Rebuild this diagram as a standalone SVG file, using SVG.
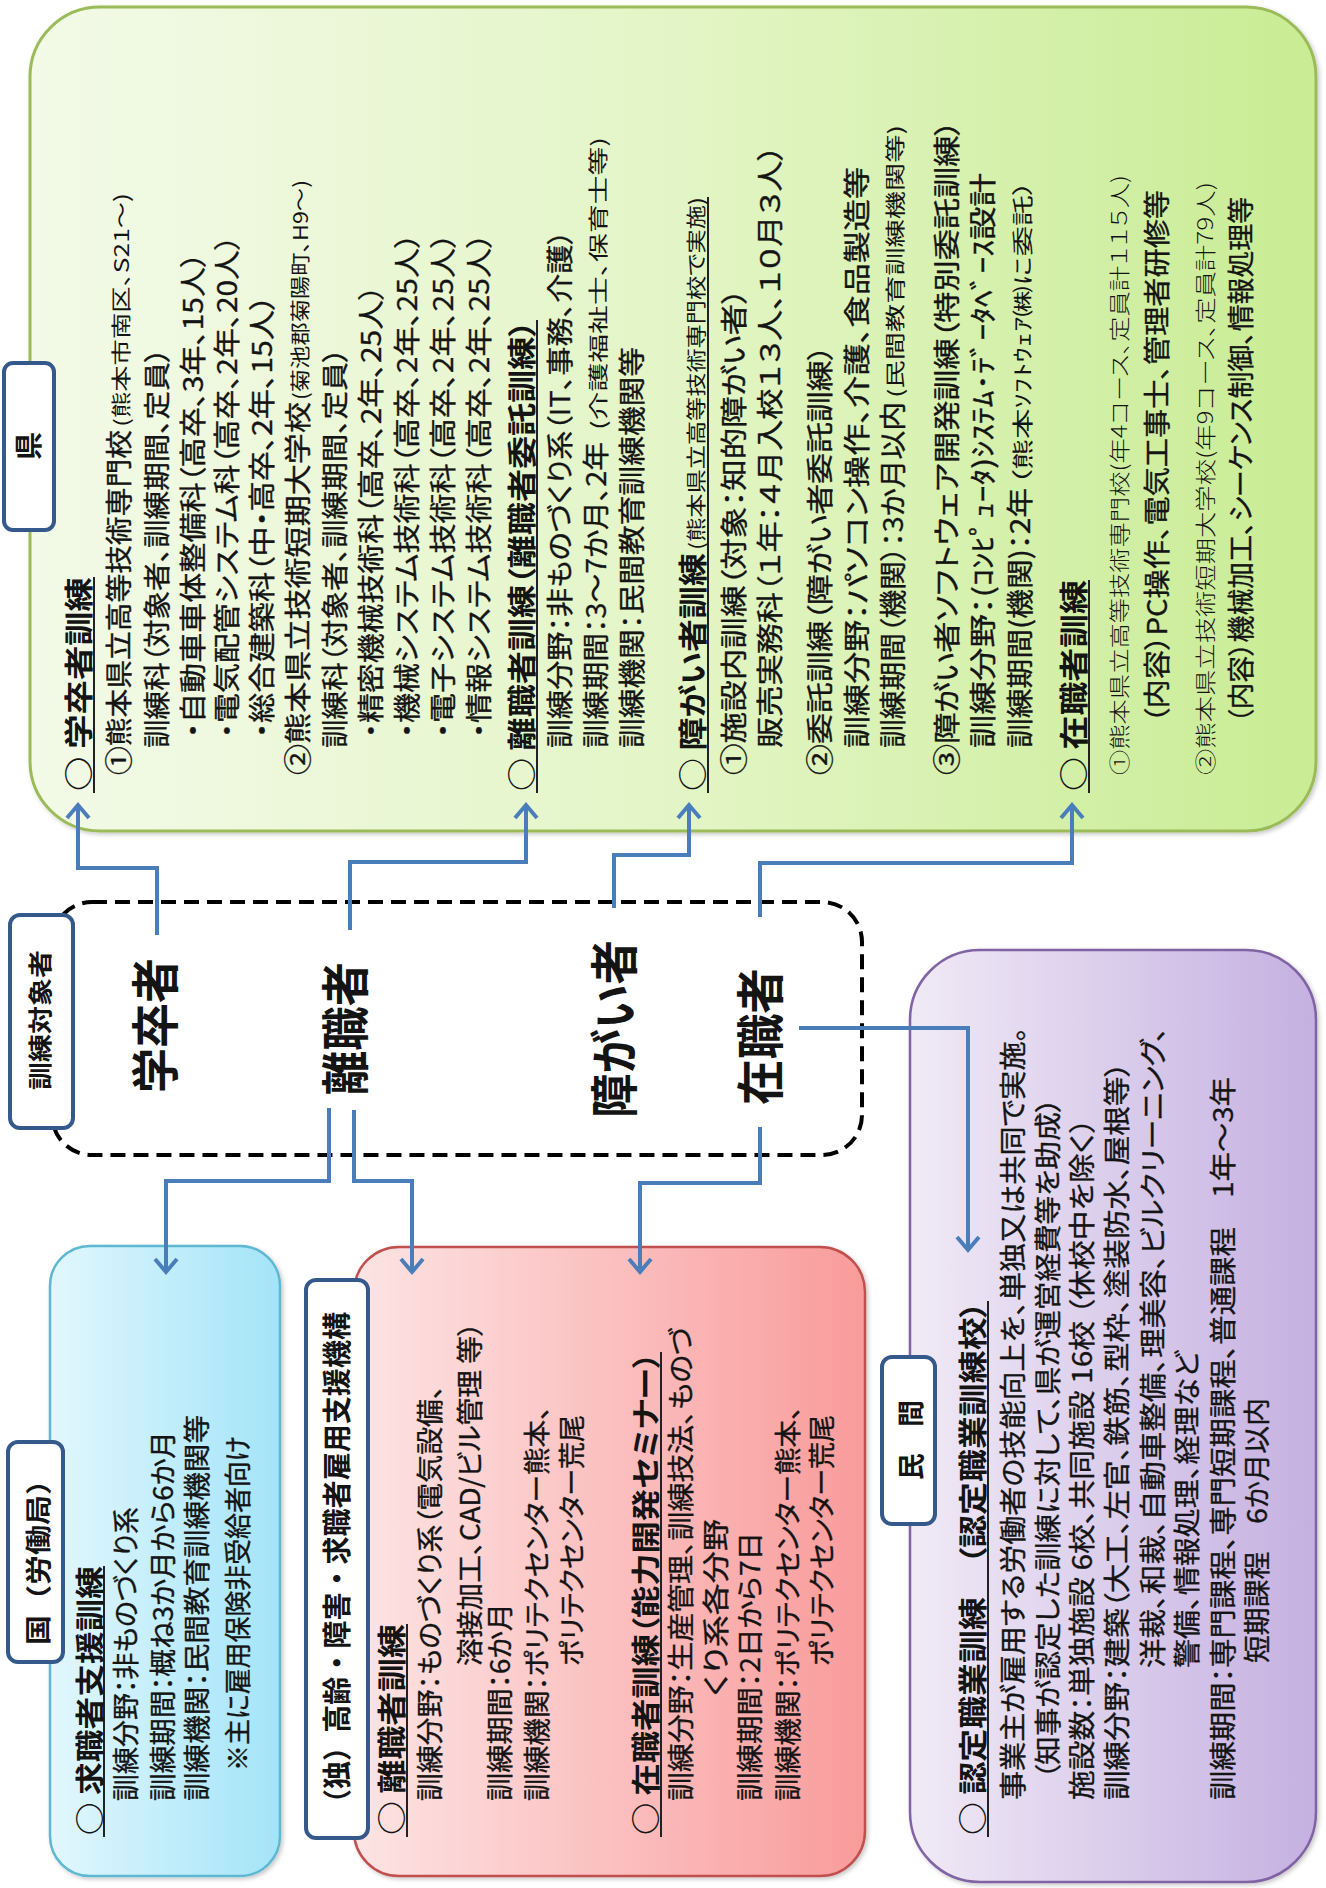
<svg xmlns="http://www.w3.org/2000/svg" width="1326" height="1888" viewBox="0 0 1326 1888">
<defs>
<style>
.tx{font-family:"Noto Sans CJK JP","Noto Sans CJK SC",sans-serif;fill:#141414;font-feature-settings:"palt" 1;}
.b{font-size:27px;stroke:#141414;stroke-width:0.35px;}
.h{font-size:29px;font-weight:700;}
.s{font-size:20px;}
.s2{font-size:21px;}
.sl{font-size:21px;font-weight:300;}
.big{font-size:48px;font-weight:700;font-feature-settings:normal;}
.lbl{font-weight:700;font-feature-settings:normal;}
.ul{stroke:#222;stroke-width:2;}
.lbox{fill:#fff;stroke:#34598A;stroke-width:4;}
.con{fill:none;stroke:#4A7EBB;stroke-width:4;}
</style>
<linearGradient id="gGreen" x1="0" y1="0" x2="1" y2="0">
<stop offset="0" stop-color="#F3FAE8"/><stop offset="0.5" stop-color="#E3F5C6"/><stop offset="1" stop-color="#C9EC94"/>
</linearGradient>
<linearGradient id="gBlue" x1="0" y1="0" x2="1" y2="0">
<stop offset="0" stop-color="#E2F7FD"/><stop offset="1" stop-color="#A3E4F8"/>
</linearGradient>
<linearGradient id="gRed" x1="0" y1="0" x2="1" y2="0">
<stop offset="0" stop-color="#FDE4E4"/><stop offset="1" stop-color="#F99B9B"/>
</linearGradient>
<linearGradient id="gPurple" x1="0" y1="0" x2="1" y2="0">
<stop offset="0" stop-color="#F0EAF6"/><stop offset="1" stop-color="#C5B0E1"/>
</linearGradient>
<filter id="sh" x="-5%" y="-5%" width="110%" height="110%">
<feDropShadow dx="2" dy="2" stdDeviation="2" flood-color="#000" flood-opacity="0.22"/>
</filter>
<marker id="arr" markerUnits="userSpaceOnUse" viewBox="-16 -14 20 28" refX="0" refY="0" markerWidth="20" markerHeight="28" orient="auto" overflow="visible">
<path d="M-13,-11 L0,0 L-13,11" fill="none" stroke="#4A7EBB" stroke-width="4"/>
</marker>
</defs>

<g id="node-ken">
<rect x="30" y="7" width="1286" height="824" rx="70" fill="url(#gGreen)" stroke="#9BBB59" stroke-width="3" filter="url(#sh)"/>
<g class="ul">
<line x1="94" y1="793" x2="94" y2="577"/>
<line x1="537" y1="793" x2="537" y2="320"/>
<line x1="708" y1="793" x2="708" y2="197"/>
<line x1="1089" y1="793" x2="1089" y2="580"/>
</g>
<g class="tx" transform="matrix(0,-1,1,0,0,1888)">
<text class="h" x="1097" y="90" textLength="214" lengthAdjust="spacingAndGlyphs">○ 学卒者訓練</text>
<text class="b" x="1113" y="128.5" textLength="345" lengthAdjust="spacingAndGlyphs">①熊本県立高等技術専門校</text>
<text class="s" x="1461" y="128.5" textLength="234" lengthAdjust="spacingAndGlyphs">(熊本市南区、S21～)</text>
<text class="b" x="1140" y="166.5" textLength="400" lengthAdjust="spacingAndGlyphs">訓練科（対象者、訓練期間、定員）</text>
<text class="b" x="1150" y="202.5" textLength="486" lengthAdjust="spacingAndGlyphs">・自動車車体整備科（高卒、3年、15人）</text>
<text class="b" x="1150" y="236.5" textLength="503" lengthAdjust="spacingAndGlyphs">・電気配管システム科（高卒、2年、20人）</text>
<text class="b" x="1150" y="271.5" textLength="443" lengthAdjust="spacingAndGlyphs">・総合建築科（中・高卒、2年、15人）</text>
<text class="b" x="1113" y="307.5" textLength="373" lengthAdjust="spacingAndGlyphs">②熊本県立技術短期大学校</text>
<text class="s" x="1488" y="307.5" textLength="220" lengthAdjust="spacingAndGlyphs">(菊池郡菊陽町、H9～)</text>
<text class="b" x="1140" y="344.5" textLength="400" lengthAdjust="spacingAndGlyphs">訓練科（対象者、訓練期間、定員）</text>
<text class="b" x="1150" y="380.5" textLength="453" lengthAdjust="spacingAndGlyphs">・精密機械技術科（高卒、2年、25人）</text>
<text class="b" x="1150" y="416.5" textLength="505" lengthAdjust="spacingAndGlyphs">・機械システム技術科（高卒、2年、25人）</text>
<text class="b" x="1150" y="452.5" textLength="505" lengthAdjust="spacingAndGlyphs">・電子システム技術科（高卒、2年、25人）</text>
<text class="b" x="1150" y="488.5" textLength="505" lengthAdjust="spacingAndGlyphs">・情報システム技術科（高卒、2年、25人）</text>
<text class="h" x="1097" y="533" textLength="471" lengthAdjust="spacingAndGlyphs">○ 離職者訓練（離職者委託訓練）</text>
<text class="b" x="1140" y="569.5" textLength="518" lengthAdjust="spacingAndGlyphs">訓練分野：非ものづくり系（IT、事務、介護）</text>
<text class="b" x="1140" y="605.5" textLength="306" lengthAdjust="spacingAndGlyphs">訓練期間：3～7か月、2年</text>
<text class="s" x="1458" y="605.5" textLength="293" lengthAdjust="spacingAndGlyphs">(介護福祉士、保育士等)</text>
<text class="b" x="1140" y="641.5" textLength="401" lengthAdjust="spacingAndGlyphs">訓練機関：民間教育訓練機関等</text>
<text class="h" x="1097" y="704" textLength="238" lengthAdjust="spacingAndGlyphs">○ 障がい者訓練</text>
<text class="s" x="1338" y="704" textLength="353" lengthAdjust="spacingAndGlyphs">(熊本県立高等技術専門校で実施)</text>
<text class="b" x="1113" y="743.5" textLength="487" lengthAdjust="spacingAndGlyphs">①施設内訓練（対象：知的障がい者）</text>
<text class="b" x="1140" y="779.5" textLength="603" lengthAdjust="spacingAndGlyphs">販売実務科（１年：４月入校１３人、１０月３人）</text>
<text class="b" x="1113" y="829.5" textLength="430" lengthAdjust="spacingAndGlyphs">②委託訓練（障がい者委託訓練）</text>
<text class="b" x="1140" y="866.5" textLength="581" lengthAdjust="spacingAndGlyphs">訓練分野：パソコン操作、介護、食品製造等</text>
<text class="b" x="1140" y="902.5" textLength="346" lengthAdjust="spacingAndGlyphs">訓練期間（機関）：3か月以内</text>
<text class="s" x="1490" y="902.5" textLength="273" lengthAdjust="spacingAndGlyphs">(民間教育訓練機関等)</text>
<text class="b" x="1113" y="956.5" textLength="655" lengthAdjust="spacingAndGlyphs">③障がい者ソフトウェア開発訓練（特別委託訓練）</text>
<text class="b" x="1140" y="992.5" textLength="575" lengthAdjust="spacingAndGlyphs">訓練分野：(ｺﾝﾋﾟｭｰﾀ)ｼｽﾃﾑ･ﾃﾞｰﾀﾍﾞｰｽ設計</text>
<text class="b" x="1140" y="1029.5" textLength="260" lengthAdjust="spacingAndGlyphs">訓練期間(機関)：2年</text>
<text class="s2" x="1403" y="1029.5" textLength="305" lengthAdjust="spacingAndGlyphs">（熊本ｿﾌﾄｳｪｱ㈱に委託）</text>
<text class="h" x="1097" y="1085" textLength="211" lengthAdjust="spacingAndGlyphs">○ 在職者訓練</text>
<text class="sl" x="1113" y="1127" textLength="600" lengthAdjust="spacingAndGlyphs">①熊本県立高等技術専門校(年4コース、定員計１１５人)</text>
<text class="b" x="1165" y="1166.5" textLength="533" lengthAdjust="spacingAndGlyphs">（内容）PC操作、電気工事士、管理者研修等</text>
<text class="sl" x="1113" y="1213" textLength="593" lengthAdjust="spacingAndGlyphs">②熊本県立技術短期大学校(年9コース、定員計79人)</text>
<text class="b" x="1165" y="1250.5" textLength="526" lengthAdjust="spacingAndGlyphs">（内容）機械加工、シーケンス制御、情報処理等</text>
</g>
</g>

<g id="node-kuni">
<rect x="50" y="1246" width="230" height="630" rx="40" fill="url(#gBlue)" stroke="#5EB8D2" stroke-width="2.5" filter="url(#sh)"/>
<line class="ul" x1="104" y1="1837" x2="104" y2="1566"/>
<g class="tx" transform="matrix(0,-1,1,0,0,1888)">
<text class="h" x="53" y="101" textLength="269" lengthAdjust="spacingAndGlyphs">○ 求職者支援訓練</text>
<text class="b" x="87" y="135.5" textLength="294" lengthAdjust="spacingAndGlyphs">訓練分野：非ものづくり系</text>
<text class="b" x="87" y="172.5" textLength="370" lengthAdjust="spacingAndGlyphs">訓練期間：概ね3か月から6か月</text>
<text class="b" x="87" y="206.5" textLength="386" lengthAdjust="spacingAndGlyphs">訓練機関：民間教育訓練機関等</text>
<text class="b" x="117" y="247.5" textLength="335" lengthAdjust="spacingAndGlyphs">※主に雇用保険非受給者向け</text>
</g>
</g>

<g id="node-dokuritsu">
<rect x="354" y="1247" width="511" height="629" rx="45" fill="url(#gRed)" stroke="#C0504D" stroke-width="2.5" filter="url(#sh)"/>
<g class="ul">
<line x1="407" y1="1837" x2="407" y2="1624"/>
<line x1="661" y1="1837" x2="661" y2="1352"/>
</g>
<g class="tx" transform="matrix(0,-1,1,0,0,1888)">
<text class="h" x="53" y="403" textLength="211" lengthAdjust="spacingAndGlyphs">○ 離職者訓練</text>
<text class="b" x="87" y="439.5" textLength="416" lengthAdjust="spacingAndGlyphs">訓練分野：ものづくり系（電気設備、</text>
<text class="b" x="222" y="479.5" textLength="344" lengthAdjust="spacingAndGlyphs">溶接加工、CAD/ビル管理 等）</text>
<text class="b" x="87" y="509.5" textLength="198" lengthAdjust="spacingAndGlyphs">訓練期間：6か月</text>
<text class="b" x="87" y="546.5" textLength="395" lengthAdjust="spacingAndGlyphs">訓練機関：ポリテクセンター熊本、</text>
<text class="b" x="222" y="581.5" textLength="251" lengthAdjust="spacingAndGlyphs">ポリテクセンター荒尾</text>
<text class="h" x="53" y="657" textLength="483" lengthAdjust="spacingAndGlyphs">○ 在職者訓練（能力開発セミナー）</text>
<text class="b" x="87" y="690.5" textLength="474" lengthAdjust="spacingAndGlyphs">訓練分野：生産管理、訓練技法、ものづ</text>
<text class="b" x="192" y="725.5" textLength="177" lengthAdjust="spacingAndGlyphs">くり系各分野</text>
<text class="b" x="87" y="759.5" textLength="269" lengthAdjust="spacingAndGlyphs">訓練期間：2日から7日</text>
<text class="b" x="87" y="797.5" textLength="395" lengthAdjust="spacingAndGlyphs">訓練機関：ポリテクセンター熊本、</text>
<text class="b" x="222" y="831.5" textLength="251" lengthAdjust="spacingAndGlyphs">ポリテクセンター荒尾</text>
</g>
</g>

<g id="node-minkan">
<rect x="910" y="950" width="406" height="932" rx="70" fill="url(#gPurple)" stroke="#8064A2" stroke-width="2.5" filter="url(#sh)"/>
<line class="ul" x1="988" y1="1837" x2="988" y2="1301"/>
<g class="tx" transform="matrix(0,-1,1,0,0,1888)">
<text class="h" x="53" y="984" textLength="534" lengthAdjust="spacingAndGlyphs">○ 認定職業訓練　（認定職業訓練校）</text>
<text class="b" x="88" y="1022.5" textLength="773" lengthAdjust="spacingAndGlyphs">事業主が雇用する労働者の技能向上を、単独又は共同で実施。</text>
<text class="b" x="109" y="1057.5" textLength="681" lengthAdjust="spacingAndGlyphs">（知事が認定した訓練に対して、県が運営経費等を助成）</text>
<text class="b" x="88" y="1091.5" textLength="682" lengthAdjust="spacingAndGlyphs">施設数：単独施設 6校、共同施設 16校 （休校中を除く）</text>
<text class="b" x="88" y="1126.5" textLength="738" lengthAdjust="spacingAndGlyphs">訓練分野：建築（大工、左官、鉄筋、型枠、塗装防水、屋根等）</text>
<text class="b" x="220" y="1162.5" textLength="641" lengthAdjust="spacingAndGlyphs">洋裁、和裁、自動車整備、理美容、ビルクリーニング、</text>
<text class="b" x="220" y="1196.5" textLength="317" lengthAdjust="spacingAndGlyphs">警備、情報処理、経理など</text>
<text class="b" x="88" y="1232.5" textLength="723" lengthAdjust="spacingAndGlyphs">訓練期間：専門課程、専門短期課程、普通課程　1年～3年</text>
<text class="b" x="225" y="1266.5" textLength="265" lengthAdjust="spacingAndGlyphs">短期課程　6か月以内</text>
</g>
</g>

<g id="node-targets">
<rect x="52" y="902" width="810" height="253" rx="40" fill="none" stroke="#000" stroke-width="4" stroke-dasharray="15 8"/>
<g class="tx" transform="matrix(0,-1,1,0,0,1888)">
<text id="t-gakusotsu" class="big" x="795" y="173" textLength="135" lengthAdjust="spacingAndGlyphs">学卒者</text>
<text id="t-rishoku" class="big" x="793" y="363" textLength="133" lengthAdjust="spacingAndGlyphs">離職者</text>
<text id="t-shogai" class="big" x="770" y="632" textLength="178" lengthAdjust="spacingAndGlyphs">障がい者</text>
<text id="t-zaishoku" class="big" x="783" y="778" textLength="137" lengthAdjust="spacingAndGlyphs">在職者</text>
</g>
</g>

<g id="connectors">
<path class="con" d="M157,935 V868 H78 V805" marker-end="url(#arr)"/>
<path class="con" d="M350,930 V862 H526 V805" marker-end="url(#arr)"/>
<path class="con" d="M614,908 V855 H689 V805" marker-end="url(#arr)"/>
<path class="con" d="M760,917 V863 H1072 V805" marker-end="url(#arr)"/>
<path class="con" d="M799,1028 H968 V1250" marker-end="url(#arr)"/>
<path class="con" d="M760,1127 V1183 H640 V1272" marker-end="url(#arr)"/>
<path class="con" d="M329,1108 V1181 H166 V1272" marker-end="url(#arr)"/>
<path class="con" d="M354,1110 V1181 H412 V1272" marker-end="url(#arr)"/>
</g>

<g id="label-ken">
<rect class="lbox" x="4" y="363" width="50" height="167" rx="9"/>
<text class="tx lbl" transform="matrix(0,-1,1,0,0,1888)" x="1442" y="39" font-size="28" text-anchor="middle">県</text>
</g>
<g id="label-taisho">
<rect class="lbox" x="10" y="915" width="63" height="213" rx="10"/>
<text class="tx lbl" transform="matrix(0,-1,1,0,0,1888)" x="868" y="49" font-size="24" text-anchor="middle" textLength="140" lengthAdjust="spacingAndGlyphs">訓練対象者</text>
</g>
<g id="label-kuni">
<rect class="lbox" x="8" y="1442" width="55" height="220" rx="10"/>
<text class="tx lbl" transform="matrix(0,-1,1,0,0,1888)" x="333" y="48" font-size="26" text-anchor="middle" textLength="180" lengthAdjust="spacingAndGlyphs">国（労働局）</text>
</g>
<g id="label-dokuritsu">
<rect class="lbox" x="306" y="1280" width="62" height="558" rx="10"/>
<text class="tx lbl" transform="matrix(0,-1,1,0,0,1888)" x="323.5" y="348" font-size="29" text-anchor="middle" textLength="505" lengthAdjust="spacingAndGlyphs">（独）高齢・障害・求職者雇用支援機構</text>
</g>
<g id="label-minkan">
<rect class="lbox" x="882" y="1357" width="53" height="167" rx="10"/>
<text class="tx lbl" transform="matrix(0,-1,1,0,0,1888)" x="448" y="921" font-size="27" text-anchor="middle" textLength="80" lengthAdjust="spacingAndGlyphs">民　間</text>
</g>
</svg>
